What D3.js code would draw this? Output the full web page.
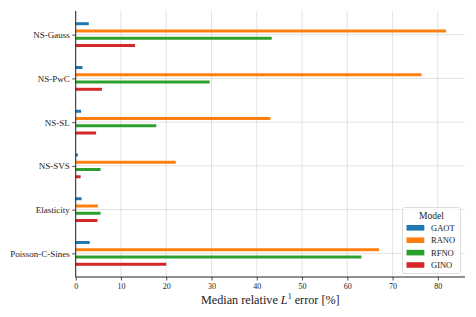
<!DOCTYPE html>
<html>
<head>
<meta charset="utf-8">
<script src="https://cdn.jsdelivr.net/npm/d3@7"></script>
<style>
  body { margin: 0; background: #fff; }
  svg { display: block; }
  text { font-family: "Liberation Serif", "DejaVu Serif", serif; fill: #222; }
</style>
</head>
<body>
<div id="chart"></div>
<script>
// datasets, top to bottom
let tasks = ["NS-Gauss", "NS-PwC", "NS-SL", "NS-SVS", "Elasticity", "Poisson-C-Sines"];
let models = ["GAOT", "RANO", "RFNO", "GINO"];
let gaot = [2.9, 1.5, 1.2, 0.5, 1.3, 3.1];
let rano = [81.8, 76.4, 43.0, 22.1, 4.9, 67.0];
let rfno = [43.3, 29.6, 17.8, 5.5, 5.5, 63.1];
let gino = [13.1, 5.8, 4.5, 1.1, 4.8, 20.0];
let xTicks = [0, 10, 20, 30, 40, 50, 60, 70, 80];

let series = [gaot, rano, rfno, gino];
let data = [];
tasks.forEach((t, i) => {
    models.forEach((m, j) => {
        data.push({ task: t, ti: i, model: m, mi: j, value: series[j][i] });
    });
});

let dimension = {
    width: 476,
    height: 317,
    margin: { top: 11, left: 75.7, right: 11, bottom: 40 }
};

let svg = d3.select("#chart")
    .append("svg")
    .attr("width", dimension.width)
    .attr("height", dimension.height);

let X = d3.scaleLinear()
    .domain([0, 86])
    .range([dimension.margin.left, dimension.width - dimension.margin.right]);

let Y = d3.scaleLinear()
    .domain([-0.54, tasks.length - 1 + 0.54])
    .range([dimension.margin.top, dimension.height - dimension.margin.bottom]);

let colors = d3.scaleOrdinal()
    .domain(models)
    .range(["#1f77b4", "#ff7f0e", "#2ca02c", "#d62728"]);

let step = 0.166;   // spacing between bars in a group (category units)
let barH = Y(0.068) - Y(0);

// grid
svg.append("g")
    .selectAll("line")
    .data(xTicks)
    .enter()
    .append("line")
    .attr("x1", d => X(d)).attr("x2", d => X(d))
    .attr("y1", Y.range()[0]).attr("y2", Y.range()[1])
    .attr("stroke", "#b0b0b0").attr("stroke-opacity", 0.35).attr("stroke-width", 1);

svg.append("g")
    .selectAll("line")
    .data(tasks)
    .enter()
    .append("line")
    .attr("x1", X.range()[0]).attr("x2", X.range()[1])
    .attr("y1", (d, i) => Y(i)).attr("y2", (d, i) => Y(i))
    .attr("stroke", "#b0b0b0").attr("stroke-opacity", 0.35).attr("stroke-width", 1);

// bars
svg.append("g")
    .selectAll("rect")
    .data(data)
    .enter()
    .append("rect")
    .attr("x", X(0))
    .attr("y", d => Y(d.ti + (d.mi - 1.5) * step) - barH / 2)
    .attr("width", d => X(d.value) - X(0))
    .attr("height", barH)
    .attr("fill", d => colors(d.model));

// axes
let Xaxis = d3.axisBottom(X)
    .tickValues(xTicks)
    .tickSize(3.5)
    .tickPadding(2.5);

let gx = svg.append("g")
    .attr("transform", "translate(0," + Y.range()[1] + ")")
    .call(Xaxis);
gx.select(".domain").attr("d", `M${X.range()[0]},0H${X.range()[1]}`).attr("stroke", "#222").attr("stroke-width", 1);
gx.selectAll(".tick line").attr("stroke", "#222").attr("stroke-width", 0.8);
gx.selectAll(".tick text").attr("font-size", 8).attr("fill", "#444").style("font-family", "Liberation Serif, serif");

let Yaxis = d3.axisLeft(Y)
    .tickValues(d3.range(tasks.length))
    .tickFormat(i => tasks[i])
    .tickSize(3.5)
    .tickPadding(2.5);

let gy = svg.append("g")
    .attr("transform", "translate(" + X(0) + ",0)")
    .call(Yaxis);
gy.select(".domain").attr("d", `M0,${Y.range()[0]}V${Y.range()[1]}`).attr("stroke", "#222").attr("stroke-width", 1);
gy.selectAll(".tick line").attr("stroke", "#222").attr("stroke-width", 0.8);
gy.selectAll(".tick text").attr("font-size", 9).attr("fill", "#222").style("font-family", "Liberation Serif, serif");

// x label
let xl = svg.append("text")
    .attr("x", (X.range()[0] + X.range()[1]) / 2)
    .attr("y", 304)
    .attr("text-anchor", "middle")
    .attr("font-size", 12.2);
xl.append("tspan").text("Median relative ");
xl.append("tspan").attr("font-style", "italic").text("L");
xl.append("tspan").attr("font-size", 8).attr("dy", -4.8).text("1");
xl.append("tspan").attr("dy", 4.8).text(" error [%]");

// legend
let lg = svg.append("g").attr("transform", "translate(402.5,207.5)");
lg.append("rect")
    .attr("width", 58).attr("height", 66)
    .attr("rx", 2.5)
    .attr("fill", "#fff").attr("fill-opacity", 0.8)
    .attr("stroke", "#d5d5d5").attr("stroke-width", 0.8);
lg.append("text")
    .attr("x", 29).attr("y", 11)
    .attr("text-anchor", "middle")
    .attr("font-size", 9.5)
    .text("Model");
let items = lg.selectAll(".item")
    .data(models)
    .enter()
    .append("g")
    .attr("transform", (d, i) => `translate(0,${20.3 + i * 12.4})`);
items.append("rect")
    .attr("x", 4).attr("y", -2.8)
    .attr("width", 17.8).attr("height", 5.6)
    .attr("fill", d => colors(d));
items.append("text")
    .attr("x", 28.5).attr("y", 3)
    .attr("font-size", 8.5)
    .text(d => d);
</script>
</body>
</html>
